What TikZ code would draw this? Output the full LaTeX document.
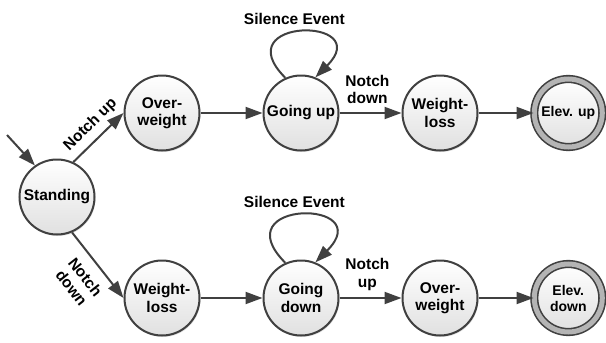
\documentclass[tikz,border=0pt]{standalone}
\usepackage{fontspec}
\setmainfont{Liberation Sans}
\usetikzlibrary{positioning, arrows.meta, shadows}

\definecolor{edgegray}{HTML}{404040}
\definecolor{ringgray}{HTML}{B4B4B4}

\begin{document}
\begin{tikzpicture}[x=1pt, y=-1pt,
    font=\bfseries\fontsize{15.5}{17.5}\selectfont,
    state/.style={circle, draw=edgegray, line width=2pt, minimum size=75pt,
      inner sep=1pt, align=center, top color=white, bottom color=black!12,
      drop shadow={opacity=0.25, shadow xshift=1pt, shadow yshift=-1.5pt}},
    final/.style={state, minimum size=68pt, line width=1.6pt,
      double=ringgray, double distance=5pt,
      font=\bfseries\fontsize{14}{16}\selectfont},
    arrow/.style={-{Triangle[length=17pt, width=12pt]}, draw=edgegray, line width=2pt},
    selfloop/.style={out=135, in=45, distance=#1}]
    \useasboundingbox (0,0) rectangle (606,343);

    % states
    \node[state] (standing) at (57,197) {Standing};
    \node[state] (overtop) at (162,113) {Over-\\weight};
    \node[state, right=62pt of overtop] (goup) {Going up};
    \node[state, right=62pt of goup] (losstop) {Weight-\\loss};
    \node[final, right=55pt of losstop] (elevup) {Elev. up};

    \node[state] (losslow) at (162,298) {Weight-\\loss};
    \node[state, right=62pt of losslow] (godown) {Going\\down};
    \node[state, right=62pt of godown] (overlow) {Over-\\weight};
    \node[final, right=55pt of overlow] (elevdown) {Elev.\\down};

    \coordinate (init) at (7,135);

    % transitions, upper row
    \draw[arrow] (init) -- (standing.125);
    \draw[arrow] (standing.65) -- node[sloped, above=3pt, pos=0.545] {Notch up} (overtop.west);
    \draw[arrow] (overtop) -- (goup);
    \draw[arrow] (goup.114) to[selfloop=86pt] node[above=3pt, xshift=-6pt] {Silence Event} (goup.68);
    \draw[arrow] (goup) -- node[above=5pt, pos=0.45, align=center] {Notch\\down} (losstop);
    \draw[arrow] (losstop) -- (elevup);

    % transitions, lower row
    \draw[arrow] (standing.-67) -- node[sloped, below=7pt, pos=0.52, align=center] {Notch\\down} (losslow.west);
    \draw[arrow] (losslow) -- (godown);
    \draw[arrow] (godown.114) to[selfloop=90pt] node[above=3pt, xshift=-6pt] {Silence Event} (godown.68);
    \draw[arrow] (godown) -- node[above=3pt, pos=0.45, align=center] {Notch\\up} (overlow);
    \draw[arrow] (overlow) -- (elevdown);
\end{tikzpicture}
\end{document}
